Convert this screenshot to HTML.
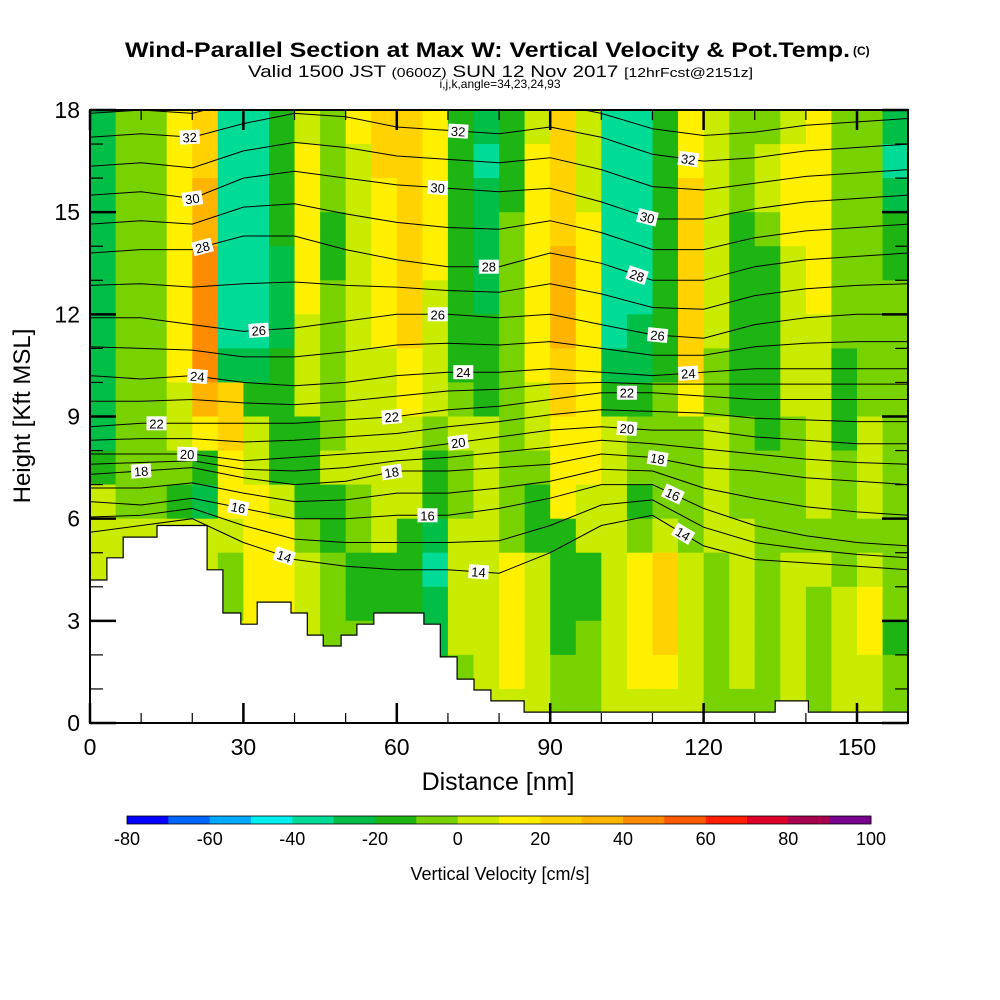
<!DOCTYPE html>
<html><head><meta charset="utf-8">
<style>
html,body{margin:0;padding:0;background:#fff;}
svg{display:block;font-family:"Liberation Sans",Arial,sans-serif;}
</style></head>
<body>
<svg id="chart" width="1000" height="1000" viewBox="0 0 1000 1000">
<g>
<text x="125" y="57" font-size="21" font-weight="bold" textLength="725" lengthAdjust="spacingAndGlyphs">Wind-Parallel Section at Max W: Vertical Velocity &amp; Pot.Temp.</text>
<text x="853" y="55" font-size="12" font-weight="bold">(C)</text>
<text x="248" y="77" font-size="17" textLength="505" lengthAdjust="spacingAndGlyphs">Valid 1500 JST <tspan font-size="13">(0600Z)</tspan> SUN 12 Nov 2017 <tspan font-size="13">[12hrFcst@2151z]</tspan></text>
<text x="500" y="88" text-anchor="middle" font-size="12">i,j,k,angle=34,23,24,93</text>
</g>
<g id="field"></g>
<g id="isen"></g>
<g id="terrain"></g>
<g id="labels"></g>
<g id="axes"></g>
<g id="cbar"></g>
<text x="30" y="416" transform="rotate(-90 30 416)" text-anchor="middle" font-size="24">Height [Kft MSL]</text>
<text x="498" y="790" text-anchor="middle" font-size="25">Distance [nm]</text>
<text x="500" y="880" text-anchor="middle" font-size="18">Vertical Velocity [cm/s]</text>
</svg>
<script>
// ---- data ----
const colWidthNm = 5;
const rowHeightKft = 1;
// vertical velocity (cm/s), rows from 17-18 kft (top) down to 0-1 kft
const w17=[-25,-5,-5,15,25,-35,-35,-15,5,-5,15,25,25,15,-15,-25,-15,5,25,5,-35,-35,-15,15,5,-5,-5,5,15,-5,-5,-25];
const w16=[-25,-5,-5,15,25,-35,-35,-15,15,-5,5,25,25,15,-15,-35,-15,15,25,5,-35,-35,-15,15,5,-5,5,15,15,-5,-5,-35];
const w15=[-25,-5,-5,15,35,-35,-35,-15,15,-5,5,15,25,15,-15,-25,-15,15,25,5,-35,-35,-15,25,5,-5,5,15,15,-5,-5,-25];
const w14=[-25,-5,-5,15,35,-35,-35,-15,15,-15,5,15,25,15,-15,-25,-5,15,25,15,-35,-35,-15,25,5,-15,-5,15,15,-5,-5,-15];
const w13=[-25,-5,-5,15,45,-35,-35,-25,15,-15,5,15,25,15,-15,-25,-5,15,35,15,-35,-35,-15,25,5,-15,-15,5,15,-5,-5,-15];
const w12=[-25,-5,-5,15,45,-35,-35,-25,15,-5,5,15,25,5,-15,-25,-5,15,35,15,-35,-35,-15,25,5,-15,-15,5,15,-5,-5,-5];
const w11=[-25,-5,-5,15,45,-35,-35,-25,5,-5,5,15,25,5,-15,-15,-5,15,35,15,-35,-25,-15,25,5,-15,-15,5,5,-5,-5,-5];
const w10=[-25,-5,-5,15,45,-25,-25,-15,5,-5,5,5,15,5,-15,-15,-5,15,25,15,-25,-25,-15,25,-5,-15,-15,5,5,-15,-5,-5];
const w9 =[-25,-5,-5,5,35,25,-15,-15,5,-5,5,5,15,5,-5,-15,-5,5,25,15,-15,-15,-5,15,-5,-15,-15,5,5,-15,-5,-5];
const w8 =[-25,-5,-5,5,15,25,5,-15,-15,-5,5,5,5,-5,5,5,-5,5,15,15,5,-5,-5,-5,5,-5,-15,-5,5,-15,5,-5];
const w7 =[-15,-5,-5,-5,-15,15,5,-15,-15,5,5,5,5,-15,-5,5,-5,-5,15,15,5,-5,-5,-5,5,-5,-5,-5,5,-5,5,-5];
const w6 =[5,-5,-5,-15,-25,15,15,5,-15,-15,-5,5,5,-15,-5,5,-5,-15,15,5,5,-15,-5,-5,5,-5,-5,-5,5,-5,5,-5];
const w5 =[5,5,5,5,5,5,15,15,-5,-15,-5,5,-15,-25,5,5,-5,-15,-15,5,5,-5,5,-5,5,5,-5,-5,-5,-5,-5,-5];
const w4 =[5,5,5,5,5,-5,15,15,5,-5,-15,-15,-15,-35,5,5,15,5,-15,-15,5,15,25,5,-5,5,-5,5,5,-5,5,-5];
const w3 =[5,5,5,5,5,-5,15,15,5,-5,-15,-15,-15,-25,5,5,15,5,-15,-15,5,15,25,5,-5,5,-5,5,-5,5,15,-5];
const w2 =[5,5,5,5,5,5,15,5,5,-5,-5,-5,-5,-25,5,5,15,5,-15,-5,5,15,25,5,-5,5,-5,5,-5,5,15,-15];
const w1 =[5,5,5,5,5,5,5,5,5,5,5,5,5,-15,-5,5,15,5,-5,-5,5,15,15,5,-5,5,-5,5,-5,5,5,-5];
const w0 =[5,5,5,5,5,5,5,5,5,5,5,5,5,5,-5,5,5,5,-5,-5,5,5,5,5,-5,-5,-5,5,-5,5,5,-5];
const wRows=[w17,w16,w15,w14,w13,w12,w11,w10,w9,w8,w7,w6,w5,w4,w3,w2,w1,w0];

// potential temperature contour heights (kft) at distance nodes
const thetaNodesNm=[0,10,20,30,40,50,60,70,80,90,100,110,120,130,140,150,160];
const th34=[18.6,18.7,18.6,19.0,19.2,19.1,18.9,18.8,18.8,18.9,18.6,18.2,18.0,18.1,18.3,18.4,18.5];
const th32=[17.2,17.3,17.2,17.6,17.9,17.8,17.5,17.4,17.3,17.5,17.2,16.7,16.5,16.6,16.8,16.9,17.0];
const th30=[15.5,15.6,15.4,16.0,16.2,16.0,15.8,15.7,15.6,15.7,15.3,14.8,14.8,15.1,15.3,15.4,15.5];
const th28=[13.8,13.9,13.9,14.3,14.3,13.9,13.6,13.4,13.4,13.8,13.5,13.0,13.0,13.4,13.6,13.7,13.8];
const th26=[11.9,11.9,11.7,11.5,11.6,11.8,12.0,12.0,11.9,12.0,11.7,11.4,11.3,11.7,11.9,12.0,12.0];
const th24=[10.2,10.1,10.2,10.0,9.9,10.0,10.2,10.3,10.3,10.4,10.3,10.2,10.3,10.4,10.4,10.4,10.4];
const th22=[8.7,8.8,8.8,8.8,8.8,8.9,9.0,9.2,9.3,9.5,9.7,9.7,9.6,9.5,9.5,9.5,9.5];
const th20=[7.9,7.9,7.9,7.7,7.8,7.9,8.0,8.2,8.4,8.6,8.7,8.6,8.6,8.4,8.3,8.2,8.2];
const th18=[7.3,7.4,7.5,7.2,7.0,7.1,7.4,7.4,7.5,7.6,7.9,7.8,7.5,7.4,7.2,7.1,7.0];
const th16=[6.5,6.4,6.6,6.3,6.0,6.0,6.1,6.1,6.3,6.6,7.0,7.0,6.3,5.8,5.5,5.3,5.2];
const th14=[5.6,5.8,6.0,5.3,4.8,4.6,4.5,4.5,4.4,5.0,5.8,6.1,5.2,4.8,4.7,4.6,4.5];
const thetaLevels=[34,32,30,28,26,24,22,20,18,16,14];
const thetaLines=[th34,th32,th30,th28,th26,th24,th22,th20,th18,th16,th14];
// label placements: distance (nm) and level
const labelNm=[19.5,72,117,20,68,109,22,78,107,33,68,111,21,73,117,13,59,105,19,72,105,10,59,111,29,66,114,38,76,116];
const labelLevel=[32,32,32,30,30,30,28,28,28,26,26,26,24,24,24,22,22,22,20,20,20,18,18,18,16,16,16,14,14,14];

// terrain: edges (nm) and heights (kft)
const terrainEdges=[0,3.3,6.5,13.1,22.9,26.0,29.5,32.7,39.3,42.5,45.6,49.1,52.2,55.5,65.3,68.5,71.8,75.1,78.4,84.9,134.0,140.5,160];
const terrainHeights=[4.2,4.85,5.46,5.8,4.5,3.23,2.9,3.55,3.23,2.58,2.26,2.58,2.9,3.23,2.9,1.94,1.29,0.97,0.65,0.32,0.65,0.32];

const yTicks=[0,3,6,9,12,15,18];
const xTicks=[0,30,60,90,120,150];
const cbarTicks=[-80,-60,-40,-20,0,20,40,60,80,100];
const cbarColors=['#0000FF','#0064FF','#00AAFF','#00F0F0','#00DC96','#00BE46','#1EB414','#78D200','#C8EB00','#FFF000','#FFD200','#FFB400','#FF8C00','#FF5A00','#FF1E00','#DC0028','#AA0050','#78008C'];

// ---- scales ----
const X0=90, X1=908, Y0=723, Y1=110;
const pxPerNm=(857-90)/150, pxPerKft=(723-110)/18;
const sx=nm=>X0+nm*pxPerNm;
const sy=k=>Y0-k*pxPerKft;
const NS='http://www.w3.org/2000/svg';
function mk(tag,parent,attrs){const e=document.createElementNS(NS,tag);for(const k in attrs)e.setAttribute(k,attrs[k]);parent.appendChild(e);return e;}
function colorFor(v){let i=Math.floor((v+80)/10);i=Math.max(0,Math.min(17,i));return cbarColors[i];}

const svg=document.getElementById('chart');
const defs=mk('defs',svg,{});
const cp=mk('clipPath',defs,{id:'plotclip'});
mk('rect',cp,{x:X0,y:Y1,width:X1-X0,height:Y0-Y1});

// field cells
const field=document.getElementById('field');
field.setAttribute('clip-path','url(#plotclip)');
wRows.forEach((row,ri)=>{
  const kTop=18-ri*rowHeightKft;
  row.forEach((v,ci)=>{
    const xa=sx(ci*colWidthNm), xb=sx((ci+1)*colWidthNm);
    const r=mk('rect',field,{x:xa.toFixed(1),y:sy(kTop).toFixed(1),width:(xb-xa+0.6).toFixed(1),height:(pxPerKft+0.6).toFixed(1),fill:colorFor(v)});
    
    
  });
});

// isentropes
const isen=document.getElementById('isen');
isen.setAttribute('clip-path','url(#plotclip)');
function lineH(arr,nm){let i=Math.min(arr.length-2,Math.max(0,Math.floor(nm/10)));const t=(nm-thetaNodesNm[i])/10;return arr[i]+(arr[i+1]-arr[i])*t;}
thetaLines.forEach((arr,li)=>{
  const pts=arr.map((h,i)=>sx(thetaNodesNm[i]).toFixed(1)+','+sy(h).toFixed(1)).join(' ');
  const p=mk('polyline',isen,{points:pts,fill:'none',stroke:'#000','stroke-width':1});
  
  
  // intermediate (odd) contour drawn midway to the next lower level
  if(li<thetaLines.length-1){
    const nxt=thetaLines[li+1];
    const pts2=arr.map((h,i)=>sx(thetaNodesNm[i]).toFixed(1)+','+sy((h+nxt[i])/2).toFixed(1)).join(' ');
    const q=mk('polyline',isen,{points:pts2,fill:'none',stroke:'#000','stroke-width':1});
    
    
  }
});

// terrain
const ter=document.getElementById('terrain');
let d='M'+sx(0)+','+sy(0);
terrainHeights.forEach((h,i)=>{d+=' L'+sx(terrainEdges[i]).toFixed(1)+','+sy(h).toFixed(1)+' L'+sx(terrainEdges[i+1]).toFixed(1)+','+sy(h).toFixed(1);});
d+=' L'+sx(160)+','+sy(0)+' Z';
const tp=mk('path',ter,{d:d,fill:'#fff',stroke:'#000','stroke-width':1.2});


ter.setAttribute('clip-path','url(#plotclip)');

// labels
const lab=document.getElementById('labels');
labelNm.forEach((nm,i)=>{
  const lev=labelLevel[i];const arr=thetaLines[thetaLevels.indexOf(lev)];
  const h=lineH(arr,nm);const x=sx(nm),y=sy(h);
  const dy=sy(lineH(arr,nm+2))-sy(lineH(arr,nm-2));const dx=sx(nm+2)-sx(nm-2);
  let ang=Math.atan2(dy,dx)*180/Math.PI;
  const g=mk('g',lab,{transform:'translate('+x.toFixed(1)+','+y.toFixed(1)+') rotate('+ang.toFixed(1)+')'});
  
  
  mk('rect',g,{x:-10,y:-7,width:20,height:14,fill:'#fff'});
  const t=mk('text',g,{x:0,y:5,'text-anchor':'middle','font-size':13});
  t.textContent=lev;
});

// axes
const ax=document.getElementById('axes');
mk('rect',ax,{x:X0,y:Y1,width:X1-X0,height:Y0-Y1,fill:'none',stroke:'#000','stroke-width':2});
for(let k=0;k<=18;k++){
  const y=sy(k),major=k%3===0,L=major?26:13,sw=major?2.5:1.2;
  mk('line',ax,{x1:X0,y1:y,x2:X0+L,y2:y,stroke:'#000','stroke-width':sw});
  mk('line',ax,{x1:X1,y1:y,x2:X1-L,y2:y,stroke:'#000','stroke-width':sw});
}
yTicks.forEach(k=>{const t=mk('text',ax,{x:80,y:sy(k)+8,'text-anchor':'end','font-size':23});t.textContent=k;
  });
for(let nm=0;nm<=160;nm+=10){
  const x=sx(nm),major=nm%30===0,L=major?20:10,sw=major?2.5:1.2;
  if(x>X1)continue;
  mk('line',ax,{x1:x,y1:Y0,x2:x,y2:Y0-L,stroke:'#000','stroke-width':sw});
  mk('line',ax,{x1:x,y1:Y1,x2:x,y2:Y1+L,stroke:'#000','stroke-width':sw});
}
xTicks.forEach(nm=>{const t=mk('text',ax,{x:sx(nm),y:755,'text-anchor':'middle','font-size':23});t.textContent=nm;
  });

// colorbar
const cb=document.getElementById('cbar');
const cbx0=127,cbx1=871,cbw=(cbx1-cbx0)/cbarColors.length;
cbarColors.forEach((c,i)=>{const r=mk('rect',cb,{x:(cbx0+i*cbw).toFixed(1),y:816,width:(cbw+0.5).toFixed(1),height:8,fill:c});
  });
mk('rect',cb,{x:cbx0,y:816,width:cbx1-cbx0,height:8,fill:'none',stroke:'#000','stroke-width':0.8});
cbarTicks.forEach((v,i)=>{const t=mk('text',cb,{x:(cbx0+i*2*cbw).toFixed(1),y:845,'text-anchor':'middle','font-size':18});t.textContent=v;
  });
</script>
</body></html>
